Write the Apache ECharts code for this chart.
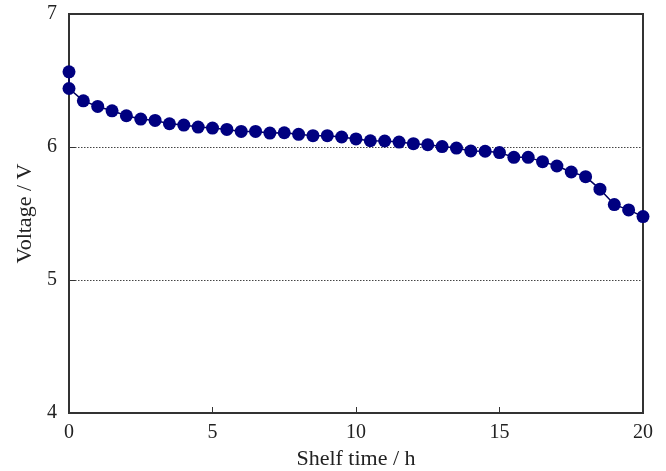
<!DOCTYPE html>
<html>
<head>
<meta charset="utf-8">
<script src="https://cdn.jsdelivr.net/npm/echarts@6/dist/echarts.min.js"></script>
<style>
  html, body { margin: 0; padding: 0; background: #fff; }
  #chart { width: 666px; height: 471px; }
</style>
</head>
<body>
<div id="chart"></div>
<script>
// Shelf time (h) and cell voltage (V); two readings were taken at t = 0.
const shelfTime = [0, 0, 0.5, 1, 1.5, 2, 2.5, 3, 3.5, 4, 4.5, 5, 5.5, 6, 6.5, 7, 7.5, 8, 8.5, 9, 9.5,
  10, 10.5, 11, 11.5, 12, 12.5, 13, 13.5, 14, 14.5, 15, 15.5, 16, 16.5, 17, 17.5, 18, 18.5, 19, 19.5, 20];
const voltage = [6.565, 6.44, 6.347, 6.305, 6.272, 6.235, 6.21, 6.20, 6.175, 6.165, 6.15, 6.142, 6.132,
  6.117, 6.117, 6.105, 6.107, 6.095, 6.085, 6.085, 6.075, 6.061, 6.047, 6.045, 6.037, 6.025, 6.017,
  6.003, 5.992, 5.97, 5.968, 5.958, 5.922, 5.922, 5.89, 5.857, 5.812, 5.777, 5.683, 5.567, 5.527, 5.477];
const xTicks = [0, 5, 10, 15, 20];
const yTicks = [4, 5, 6, 7];

const points = shelfTime.map((t, i) => [t, voltage[i]]);
const serif = '"Liberation Serif", "DejaVu Serif", serif';

const chart = echarts.init(document.getElementById('chart'), null, { renderer: 'canvas' });
chart.setOption({
  animation: false,
  backgroundColor: '#fff',
  grid: {
    left: 69, top: 14, right: 23, bottom: 58,
    outerBoundsMode: 'none',
    show: true, borderColor: '#333', borderWidth: 2, backgroundColor: 'transparent'
  },
  xAxis: {
    type: 'value',
    min: xTicks[0], max: xTicks[xTicks.length - 1], interval: 5,
    name: 'Shelf time / h',
    nameLocation: 'middle', nameGap: 34,
    nameTextStyle: { fontFamily: serif, fontSize: 22, color: '#222' },
    axisLine: { show: true, lineStyle: { color: '#333', width: 2 } },
    axisTick: { show: true, inside: true, length: 6, lineStyle: { color: '#333', width: 1 } },
    axisLabel: { fontFamily: serif, fontSize: 20, color: '#222', margin: 10 },
    splitLine: { show: false }
  },
  yAxis: {
    type: 'value',
    min: yTicks[0], max: yTicks[yTicks.length - 1], interval: 1,
    name: 'Voltage / V',
    nameLocation: 'middle', nameGap: 33,
    nameTextStyle: { fontFamily: serif, fontSize: 22, color: '#222' },
    axisLine: { show: true, lineStyle: { color: '#333', width: 2 } },
    axisTick: { show: true, inside: true, length: 6, lineStyle: { color: '#333', width: 1 } },
    axisLabel: { fontFamily: serif, fontSize: 20, color: '#222', margin: 12 },
    // dotted reference lines only at 5 V and 6 V; 4 V and 7 V sit on the frame
    splitLine: {
      show: true,
      lineStyle: { color: ['transparent', '#444', '#444', 'transparent'], type: [1.5, 1.5], width: 1 }
    }
  },
  series: [{
    type: 'line',
    data: points,
    symbol: 'circle',
    symbolSize: 13,
    showSymbol: true,
    itemStyle: { color: '#000080', borderWidth: 0 },
    lineStyle: { color: '#000060', width: 1.5 },
    z: 3
  }]
});
</script>
</body>
</html>
